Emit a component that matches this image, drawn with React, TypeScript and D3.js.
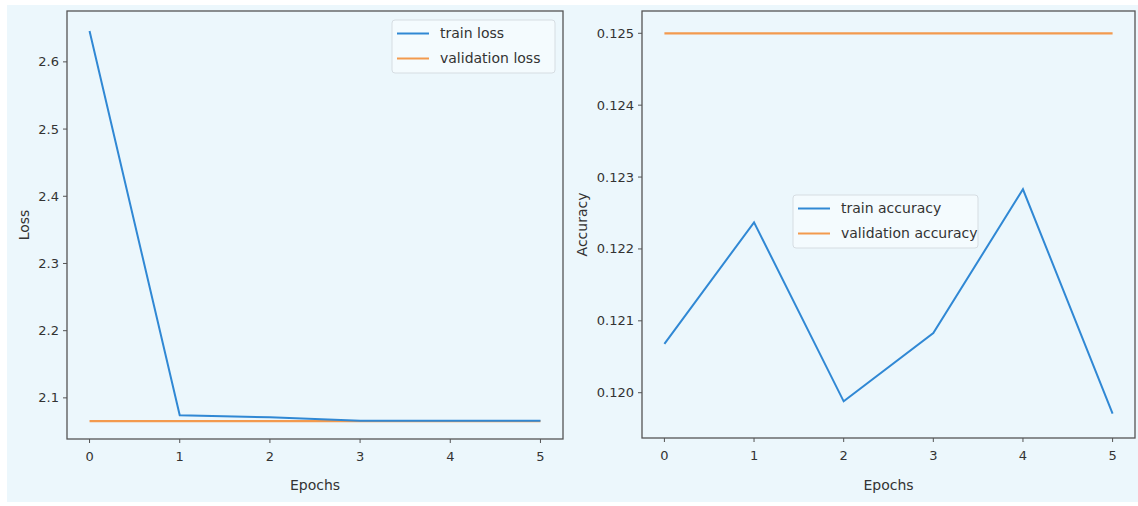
import React from "react";
import * as d3 from "d3";

const epochs = [0, 1, 2, 3, 4, 5];
const trainLoss = [2.646, 2.074, 2.071, 2.066, 2.066, 2.066];
const valLoss = [2.0655, 2.0655, 2.0655, 2.0655, 2.0655, 2.0655];
const trainAcc = [0.12068, 0.12237, 0.11988, 0.12083, 0.12283, 0.11971];
const valAcc = [0.125, 0.125, 0.125, 0.125, 0.125, 0.125];
const lossTicks = [2.1, 2.2, 2.3, 2.4, 2.5, 2.6];
const accTicks = [0.12, 0.121, 0.122, 0.123, 0.124, 0.125];

const BLUE = "#3088d4";
const ORANGE = "#f39a4e";
const TEXT = "#333";
const FRAME = "#555";
const FONT = "DejaVu Sans, sans-serif";

type PanelProps = {
  x0: number; x1: number; y0: number; y1: number;
  yDomain: [number, number];
  yTicks: number[];
  fmt: (v: number) => string;
  train: number[]; val: number[];
  ylabel: string; ylabelX: number;
  legend: { x: number; y: number; w: number; h: number; labels: string[] };
};

function Panel(p: PanelProps) {
  const x = d3.scaleLinear().domain([-0.25, 5.25]).range([p.x0, p.x1]);
  const y = d3.scaleLinear().domain(p.yDomain).range([p.y1, p.y0]);
  const line = d3.line<number>().x((_, i) => x(epochs[i])).y((d) => y(d));
  const cy = (p.y0 + p.y1) / 2;
  const cx = (p.x0 + p.x1) / 2;
  return (
    <g fontFamily={FONT}>
      <path d={line(p.val) || ""} fill="none" stroke={ORANGE} strokeWidth={2.2} />
      <path d={line(p.train) || ""} fill="none" stroke={BLUE} strokeWidth={2} />
      <rect x={p.x0} y={p.y0} width={p.x1 - p.x0} height={p.y1 - p.y0} fill="none" stroke={FRAME} strokeWidth={1.3} />
      {epochs.map((e) => (
        <g key={e}>
          <line x1={x(e)} x2={x(e)} y1={p.y1} y2={p.y1 + 4} stroke={FRAME} strokeWidth={1} />
          <text x={x(e)} y={p.y1 + 22} textAnchor="middle" fontSize={13} fill={TEXT}>{e}</text>
        </g>
      ))}
      {p.yTicks.map((t) => (
        <g key={t}>
          <line x1={p.x0 - 4} x2={p.x0} y1={y(t)} y2={y(t)} stroke={FRAME} strokeWidth={1} />
          <text x={p.x0 - 8} y={y(t)} dy="0.35em" textAnchor="end" fontSize={13} fill={TEXT}>{p.fmt(t)}</text>
        </g>
      ))}
      <text x={cx} y={490} textAnchor="middle" fontSize={14} fill={TEXT}>Epochs</text>
      <text transform={`translate(${p.ylabelX},${cy}) rotate(-90)`} textAnchor="middle" fontSize={14} fill={TEXT}>{p.ylabel}</text>
      <rect x={p.legend.x} y={p.legend.y} width={p.legend.w} height={p.legend.h} rx={3} fill="#f4fbfe" stroke="#d6dde2" strokeWidth={1} />
      {p.legend.labels.map((l, i) => {
        const ly = p.legend.y + 13.5 + i * 25;
        return (
          <g key={l}>
            <line x1={p.legend.x + 5} x2={p.legend.x + 37} y1={ly} y2={ly} stroke={i === 0 ? BLUE : ORANGE} strokeWidth={2} />
            <text x={p.legend.x + 48} y={ly} dy="0.35em" fontSize={14} fill={TEXT}>{l}</text>
          </g>
        );
      })}
    </g>
  );
}

export default function App() {
  return (
    <svg width={1138} height={506} style={{ position: "absolute", left: 0, top: 0 }}>
      <rect x={0} y={0} width={1138} height={506} fill="#ffffff" />
      <rect x={7} y={5} width={1131} height={497} fill="#ecf7fc" />
      <Panel
        x0={67} x1={563} y0={11} y1={439}
        yDomain={[2.0388, 2.6757]}
        yTicks={lossTicks}
        fmt={(v) => v.toFixed(1)}
        train={trainLoss} val={valLoss}
        ylabel="Loss" ylabelX={29}
        legend={{ x: 392, y: 20, w: 163, h: 53, labels: ["train loss", "validation loss"] }}
      />
      <Panel
        x0={642} x1={1135} y0={11} y1={438}
        yDomain={[0.11937, 0.12531]}
        yTicks={accTicks}
        fmt={(v) => v.toFixed(3)}
        train={trainAcc} val={valAcc}
        ylabel="Accuracy" ylabelX={587}
        legend={{ x: 793, y: 195, w: 185, h: 53, labels: ["train accuracy", "validation accuracy"] }}
      />
    </svg>
  );
}
